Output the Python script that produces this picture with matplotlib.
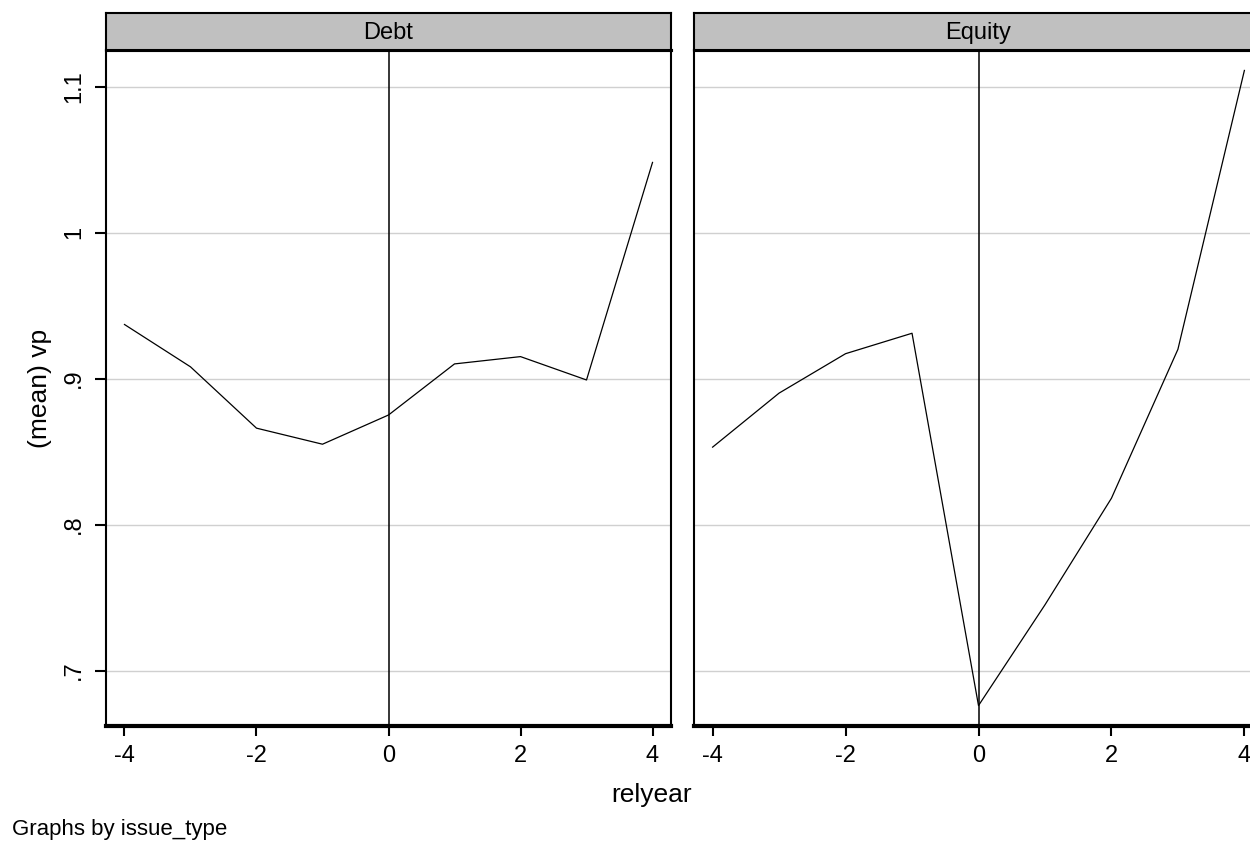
import numpy as np
import matplotlib
matplotlib.use('Agg')
import matplotlib.pyplot as plt

plt.rcParams['font.family'] = ['Liberation Sans', 'DejaVu Sans']

##data
relyear = [-4, -3, -2, -1, 0, 1, 2, 3, 4]
debt_vp = [0.937, 0.908, 0.866, 0.855, 0.875, 0.910, 0.915, 0.899, 1.048]
equity_vp = [0.853, 0.890, 0.917, 0.931, 0.676, 0.745, 0.818, 0.920, 1.111]
panels = ['Debt', 'Equity']
series = [debt_vp, equity_vp]
yticks = [0.7, 0.8, 0.9, 1.0, 1.1]
ytick_labels = ['.7', '.8', '.9', '1', '1.1']
xticks = [-4, -2, 0, 2, 4]

W, H = 1250, 843
fig = plt.figure(figsize=(W/100, H/100), dpi=100)
fig.patch.set_facecolor('white')

# pixel boxes (left, right) for the two panels
lefts = [106, 694]
rights = [671, 1263]
top, bottom = 50, 726
strip_top = 13

for i in range(2):
    l, r = lefts[i], rights[i]
    ax = fig.add_axes([l/W, (H-bottom)/H, (r-l)/W, (bottom-top)/H])
    ax.set_xlim(-4.28, 4.28)
    ax.set_ylim(0.662, 1.125)
    for y in yticks:
        ax.axhline(y, color='#d0d0d0', lw=1.0, zorder=1)
    ax.axvline(0, color='black', lw=1.1, zorder=2)
    ax.plot(relyear, series[i], color='black', lw=0.9, zorder=3)
    ax.set_xticks(xticks)
    ax.set_xticklabels([str(x) for x in xticks], fontsize=17)
    ax.tick_params(axis='x', direction='out', length=7, width=1.5, pad=7)
    ax.set_yticks(yticks)
    if i == 0:
        ax.set_yticklabels(ytick_labels, fontsize=17, rotation=90, va='center')
        ax.tick_params(axis='y', direction='out', length=8, width=1.5, pad=7)
        ax.set_ylabel('(mean) vp', fontsize=19, labelpad=8)
    else:
        ax.tick_params(axis='y', length=0, labelleft=False)
    ax.spines['left'].set_linewidth(1.5)
    ax.spines['right'].set_linewidth(1.5)
    ax.spines['top'].set_linewidth(2.2)
    ax.spines['bottom'].set_linewidth(3.0)

    # strip header
    sx = fig.add_axes([l/W, (H-top)/H, (r-l)/W, (top-strip_top)/H])
    sx.set_facecolor('#c0c0c0')
    sx.set_xticks([])
    sx.set_yticks([])
    for s in sx.spines.values():
        s.set_linewidth(1.5)
    sx.spines['bottom'].set_linewidth(2.2)
    sx.text(0.5, 0.45, panels[i], ha='center', va='center', fontsize=17,
            transform=sx.transAxes)

fig.text(652/W, 1 - 795/H, 'relyear', ha='center', va='center', fontsize=19)
fig.text(12/W, 1 - 830/H, 'Graphs by issue_type', ha='left', va='center', fontsize=16)

plt.savefig('out.png', dpi=100)
